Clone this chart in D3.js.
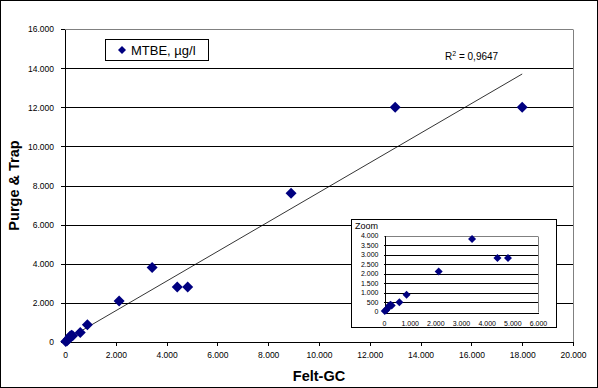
<!DOCTYPE html>
<html>
<head>
<meta charset="utf-8">
<script src="https://cdn.jsdelivr.net/npm/d3@7"></script>
<style>
  body { margin: 0; background: #fff; }
  text { font-family: Arial, "Liberation Sans", sans-serif; }
</style>
</head>
<body>
<div class="chart"></div>
<script>
// Felt-GC vs Purge & Trap, MTBE
var feltGC =      [30, 80, 130, 200, 250, 300, 600, 880, 2130, 3430, 4420, 4830, 8900, 13000, 18000];
var purgeTrap =   [20, 60, 150, 300, 350, 320, 490, 880, 2100, 3810, 2810, 2810, 7600, 12000, 12000];
var xTicks = [0, 2000, 4000, 6000, 8000, 10000, 12000, 14000, 16000, 18000, 20000];
var yTicks = [0, 2000, 4000, 6000, 8000, 10000, 12000, 14000, 16000];
var zoomXTicks = [0, 1000, 2000, 3000, 4000, 5000, 6000];
var zoomYTicks = [0, 500, 1000, 1500, 2000, 2500, 3000, 3500, 4000];
// trendline end points
var trendX = [30, 18000];
var trendY = [108, 13700];
var seriesName = "MTBE, µg/l";
var r2Label = "0,9647";

var points = feltGC.map((d, i) => ({x: d, y: purgeTrap[i]}));
var fmt = v => v === 0 ? "0" : d3.format(",")(v).replace(/,/g, ".");
var crisp = v => Math.round(v) + 0.5;

var svgWidth = 598, svgHeight = 388;
var svg = d3.select(".chart").append("svg")
  .attr("width", svgWidth)
  .attr("height", svgHeight);

// outer border
svg.append("rect")
  .attr("x", 0.5).attr("y", 0.5)
  .attr("width", svgWidth - 1).attr("height", svgHeight - 1)
  .attr("fill", "#fff").attr("stroke", "#000");

var xScale = d3.scaleLinear().domain([0, 20000]).range([65, 573]);
var yScale = d3.scaleLinear().domain([0, 16000]).range([342, 29]);

// gridlines
svg.append("g").selectAll("line")
  .data(yTicks.filter(d => d > 0))
  .enter().append("line")
  .attr("x1", xScale(0)).attr("x2", xScale(20000))
  .attr("y1", d => crisp(yScale(d))).attr("y2", d => crisp(yScale(d)))
  .attr("stroke", d => d === 16000 ? "#808080" : "#000");

// right border
svg.append("line")
  .attr("x1", crisp(xScale(20000))).attr("x2", crisp(xScale(20000)))
  .attr("y1", crisp(yScale(16000))).attr("y2", crisp(yScale(0)))
  .attr("stroke", "#808080");

// axes
var bottomAxis = d3.axisBottom(xScale).tickValues(xTicks).tickFormat(fmt).tickSize(4).tickSizeOuter(0);
var leftAxis = d3.axisLeft(yScale).tickValues(yTicks).tickFormat(fmt).tickSize(4).tickSizeOuter(0);

var xAxis = svg.append("g")
  .attr("transform", `translate(0, ${crisp(yScale(0)) - 0.5})`)
  .call(bottomAxis);
var yAxis = svg.append("g")
  .attr("transform", `translate(${crisp(xScale(0)) - 0.5}, 0)`)
  .call(leftAxis);

[xAxis, yAxis].forEach(function(a) {
  a.selectAll("path, line").attr("stroke", "#000").attr("shape-rendering", "crispEdges");
  a.selectAll("text").attr("font-size", "8.5px").attr("fill", "#000")
    .attr("font-family", "Arial, 'Liberation Sans', sans-serif");
});
xAxis.selectAll("text").attr("dy", null).attr("y", 16);
yAxis.selectAll("text").attr("x", -11).attr("dy", "0.35em");

// trendline
svg.append("line")
  .attr("x1", xScale(trendX[0])).attr("y1", yScale(trendY[0]))
  .attr("x2", xScale(trendX[1])).attr("y2", yScale(trendY[1]))
  .attr("stroke", "#000").attr("stroke-width", 0.8);

var diamond = s => `M0,${-s}L${s},0L0,${s}L${-s},0Z`;

svg.append("g").selectAll("path")
  .data(points)
  .enter().append("path")
  .attr("d", diamond(5.5))
  .attr("transform", d => `translate(${xScale(d.x)}, ${yScale(d.y)})`)
  .attr("fill", "#000080");

// R² label
var r2 = svg.append("text")
  .attr("x", 445).attr("y", 60)
  .attr("font-size", "10px");
r2.append("tspan").text("R");
r2.append("tspan").attr("font-size", "7px").attr("dy", -4).text("2");
r2.append("tspan").attr("dy", 4).text(" = " + r2Label);

// legend
svg.append("rect")
  .attr("x", 105.5).attr("y", 39.5).attr("width", 103).attr("height", 21)
  .attr("fill", "#fff").attr("stroke", "#000");
svg.append("path")
  .attr("d", diamond(4))
  .attr("transform", "translate(122, 50)")
  .attr("fill", "#000080");
svg.append("text")
  .attr("x", 131).attr("y", 55)
  .attr("font-size", "13px")
  .text(seriesName);

// axis titles
svg.append("text")
  .attr("x", (xScale(0) + xScale(20000)) / 2).attr("y", 381)
  .attr("text-anchor", "middle")
  .attr("font-size", "14.5px").attr("font-weight", "bold")
  .text("Felt-GC");
svg.append("text")
  .attr("transform", `translate(19, ${(yScale(0) + yScale(16000)) / 2}) rotate(-90)`)
  .attr("text-anchor", "middle")
  .attr("font-size", "14.5px").attr("font-weight", "bold")
  .text("Purge & Trap");

// zoom inset
var inset = svg.append("g");
inset.append("rect")
  .attr("x", 351.5).attr("y", 219.5).attr("width", 205).attr("height", 108)
  .attr("fill", "#fff").attr("stroke", "#000");
inset.append("text")
  .attr("x", 355).attr("y", 229)
  .attr("font-size", "9px")
  .text("Zoom");

var zx = d3.scaleLinear().domain([0, 6000]).range([384, 538]);
var zy = d3.scaleLinear().domain([0, 4000]).range([311.5, 235.5]);

inset.append("g").selectAll("line")
  .data(zoomYTicks.filter(d => d > 0))
  .enter().append("line")
  .attr("x1", zx(0)).attr("x2", zx(6000))
  .attr("y1", d => crisp(zy(d))).attr("y2", d => crisp(zy(d)))
  .attr("stroke", d => d === 4000 ? "#808080" : "#000");
inset.append("line")
  .attr("x1", crisp(zx(6000))).attr("x2", crisp(zx(6000)))
  .attr("y1", crisp(zy(4000))).attr("y2", crisp(zy(0)))
  .attr("stroke", "#808080");

var zBottom = d3.axisBottom(zx).tickValues(zoomXTicks).tickFormat(fmt).tickSize(0).tickSizeOuter(0);
var zLeft = d3.axisLeft(zy).tickValues(zoomYTicks).tickFormat(fmt).tickSize(0).tickSizeOuter(0);
var zxAxis = inset.append("g").attr("transform", `translate(0, ${crisp(zy(0))})`).call(zBottom);
var zyAxis = inset.append("g").attr("transform", `translate(${crisp(zx(0))}, 0)`).call(zLeft);
[zxAxis, zyAxis].forEach(function(a) {
  a.selectAll("path").attr("stroke", "#000").attr("shape-rendering", "crispEdges");
  a.selectAll("text").attr("font-size", "7px").attr("fill", "#000")
    .attr("font-family", "Arial, 'Liberation Sans', sans-serif");
});
zxAxis.selectAll("text").attr("dy", null).attr("y", 13);
zyAxis.selectAll("text").attr("x", -6).attr("dy", "0.35em");

inset.append("g").selectAll("path")
  .data(points.filter(d => d.x <= 6000 && d.y <= 4000))
  .enter().append("path")
  .attr("d", diamond(4))
  .attr("transform", d => `translate(${zx(d.x)}, ${zy(d.y)})`)
  .attr("fill", "#000080");
</script>
</body>
</html>
